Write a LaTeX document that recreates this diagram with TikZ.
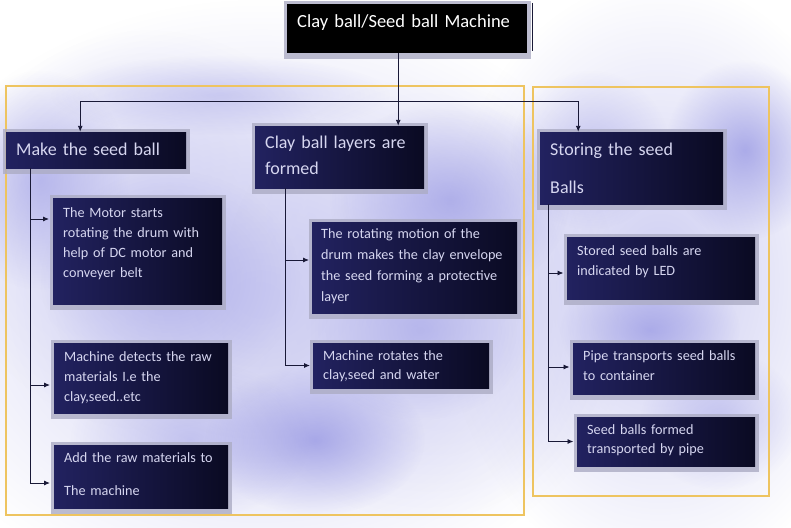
\documentclass[tikz,border=0pt]{standalone}
\usepackage{fontspec}
\setmainfont{Carlito}[WordSpace=0.75]
\usetikzlibrary{arrows.meta,fadings,backgrounds,calc}
\hyphenpenalty=10000
\exhyphenpenalty=10000

\definecolor{boxA}{RGB}{34,34,96}
\definecolor{boxB}{RGB}{10,10,34}
\definecolor{boxtext}{RGB}{214,214,240}
\definecolor{framecol}{RGB}{238,196,96}
\definecolor{conn}{RGB}{25,25,55}
\definecolor{shad}{RGB}{172,172,196}
\definecolor{haze}{RGB}{130,130,222}
\definecolor{tint}{RGB}{205,205,242}

\tikzfading[name=blobfade, inner color=transparent!0, outer color=transparent!100]

\tikzset{
  card/.style={anchor=base west, inner xsep=10pt, inner ysep=0pt,
    left color=boxA, right color=boxB, text=boxtext, align=left},
  titlecard/.style={anchor=base west, inner xsep=10pt, inner ysep=0pt,
    fill=black, text=white, align=left, font=\fontsize{18.5}{24}\selectfont},
  small/.style={font=\fontsize{14.2}{20}\selectfont},
  arr/.style={draw=conn, line width=0.9pt, -{Latex[length=6pt,width=5pt]}},
  framebox/.style={draw=framecol, line width=1.1pt},
  shadowbox/.style={fill=shad, opacity=0.8},
  blob/.style={fill=haze, path fading=blobfade}
}

\begin{document}
\begin{tikzpicture}[x=1pt,y=-1pt]
\useasboundingbox (0,0) rectangle (791,527);

% title
\node[titlecard, text width=220pt, text height=23.5pt, text depth=25.5pt] (title) at (287,27.5) {Clay ball/Seed ball Machine};

% level 1
\node[card, font=\fontsize{18}{26}\selectfont, text width=160pt, text height=23pt, text depth=13pt] (make) at (6,155) {Make the seed ball};
\node[card, font=\fontsize{18}{25.7}\selectfont, text width=149pt, text height=22.3pt, text depth=39.7pt] (clay) at (255,148.3) {Clay ball layers are\\formed};
\node[card, font=\fontsize{18}{38.3}\selectfont, text width=163pt, text height=23pt, text depth=49pt] (store) at (540,155) {Storing the seed\\Balls};

% make column
\node[card, small, text width=149pt, text height=19.3pt, text depth=86.7pt] (m1) at (53,217.3) {The Motor starts\\rotating the drum with\\help of DC motor and\\conveyer belt};
\node[card, small, text width=154pt, text height=18.7pt, text depth=51.3pt] (m2) at (54,361.7) {Machine detects the raw\\materials I.e the\\clay,seed..etc};
\node[card, small, text width=154pt, text height=17.3pt, text depth=45.7pt] (m3) at (54,462.3) {Add the raw materials to\\[13.3pt]The machine};

% clay column
\node[card, font=\fontsize{14.2}{21}\selectfont, inner xsep=9pt, text width=187pt, text height=16.3pt, text depth=74.7pt] (ca) at (312,238.3) {The rotating motion of the\\\mbox{drum makes the clay envelope}\\the seed forming a protective\\layer};
\node[card, font=\fontsize{14.2}{19.3}\selectfont, text width=156pt, text height=17pt, text depth=28pt] (cb) at (313,360) {Machine rotates the\\clay,seed and water};

% store column
\node[card, small, text width=168pt, text height=18pt, text depth=44pt] (s1) at (567,255) {Stored seed balls are\\indicated by LED};
\node[card, small, text width=162pt, text height=17pt, text depth=34pt] (s2) at (573,360) {Pipe transports seed balls\\to container};
\node[card, font=\fontsize{14.2}{19}\selectfont, text width=158pt, text height=17.3pt, text depth=31.7pt] (s3) at (577,434.3) {Seed balls formed\\transported by pipe};

% connectors
\path ([xshift=-9pt]title.south) coordinate (ts);
\coordinate (hub) at (ts |- 0,101);
\draw[arr] (ts) -- (ts |- clay.north);
\draw[arr] (hub) -| ([xshift=-16pt]make.north);
\draw[arr] (hub) -| ([xshift=-53.5pt]store.north);

\path ([xshift=-66pt]make.south) coordinate (mk);
\draw[arr, shorten >=4pt] (mk) |- ([yshift=32pt]m1.west);
\draw[arr, shorten >=4pt] (mk) |- ([yshift=-7pt]m2.west);
\draw[arr, shorten >=4pt] (mk) |- ([yshift=-6.5pt]m3.west);

\path ([xshift=-54.5pt]clay.south) coordinate (ck);
\draw[arr, shorten >=3pt] (ck) |- ([yshift=7.5pt]ca.west);
\draw[arr, shorten >=3pt] (ck) |- (cb.west);

\path ([xshift=-83.5pt]store.south) coordinate (sk);
\draw[arr, shorten >=3.5pt] (sk) |- ([yshift=-5pt]s1.west);
\draw[arr, shorten >=3.5pt] (sk) |- ([yshift=1.5pt]s2.west);
\draw[arr, shorten >=3.5pt] (sk) |- (s3.west);

\begin{pgfonlayer}{background}
  \fill[white] (0,0) rectangle (791,527);
  % haze base
  \fill[tint, path fading=blobfade] (260,300) ellipse (380 and 300);
  \fill[tint, path fading=blobfade] (660,280) ellipse (220 and 300);
  \fill[tint, path fading=blobfade, opacity=0.8] (150,230) ellipse (200 and 200);
  \fill[tint, path fading=blobfade, opacity=0.8] (420,300) ellipse (200 and 220);
  % haze spots
  \fill[blob, opacity=0.45] (40,180) ellipse (90 and 110);
  \fill[blob, opacity=0.35] (170,280) ellipse (130 and 110);
  \fill[blob, opacity=0.35] (190,440) ellipse (120 and 80);
  \fill[blob, opacity=0.6] (315,440) ellipse (110 and 75);
  \fill[blob, opacity=0.5] (450,200) ellipse (120 and 100);
  \fill[blob, opacity=0.35] (420,330) ellipse (110 and 90);
  \fill[blob, opacity=0.3] (220,95) ellipse (170 and 40);
  \fill[blob, opacity=0.35] (590,150) ellipse (80 and 80);
  \fill[blob, opacity=0.6] (745,150) ellipse (80 and 90);
  \fill[blob, opacity=0.5] (650,330) ellipse (90 and 60);
  \fill[blob, opacity=0.35] (720,420) ellipse (80 and 70);
  % frames
  \draw[framebox] (6,86) rectangle (524,515);
  \draw[framebox] (533,87) rectangle (769,496);
  % shadows
  \foreach \n in {title,make,clay,store,m1,m2,m3,ca,cb,s1,s2,s3}{
    \fill[shadowbox] ([shift={(-3pt,3pt)}]\n.north west) rectangle ([shift={(4pt,-6pt)}]\n.south east);
  }
  \draw[conn, line width=0.9pt] ([shift={(5pt,1pt)}]title.north east) -- ([shift={(5pt,2pt)}]title.south east);
\end{pgfonlayer}
\end{tikzpicture}
\end{document}
